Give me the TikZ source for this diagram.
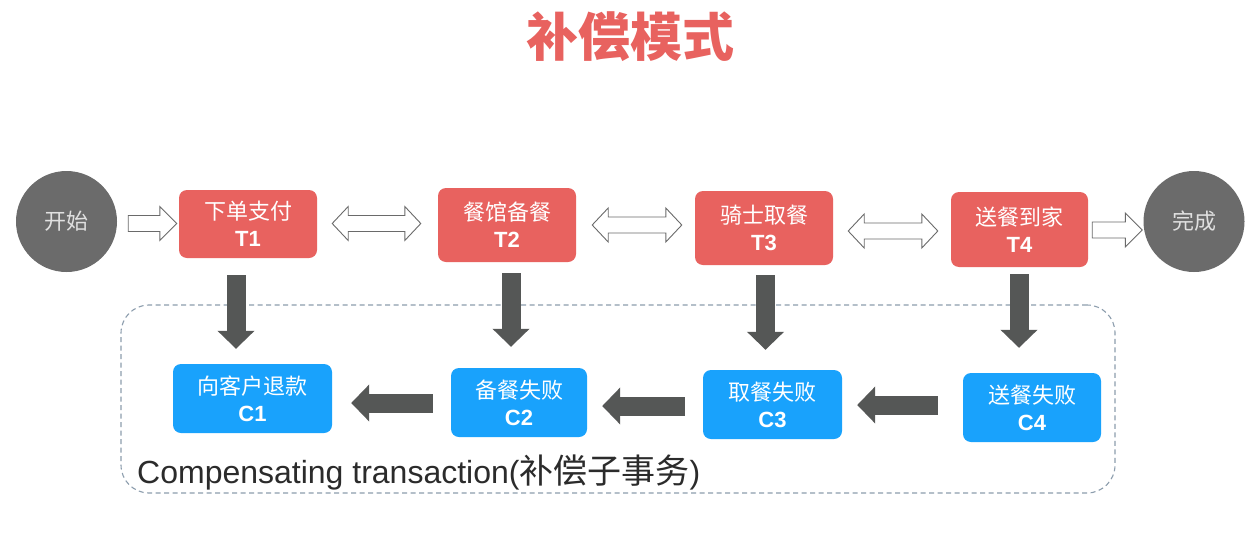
\documentclass[tikz,border=0pt]{standalone}
\usepackage{fontspec}
\setmainfont{Liberation Sans}
\newfontfamily\cjk{Noto Sans CJK SC}
\usetikzlibrary{arrows.meta,calc}
\definecolor{tred}{HTML}{E8625F}
\definecolor{cblue}{HTML}{19A2FC}
\definecolor{cgray}{HTML}{6B6B6B}
\definecolor{darr}{HTML}{555756}
\definecolor{dashc}{HTML}{8C9DAD}
\definecolor{txtc}{HTML}{2B2B2B}
\definecolor{hollowc}{HTML}{6A6A6A}
\newcommand{\onearrow}[2]{%
  \draw[hollow] let \p1=(#1), \p2=(#2) in
    (\x1,\y1+8pt) -- (\x2-17pt,\y1+8pt) -- (\x2-17pt,\y1+17pt) -- (\x2,\y1)
    -- (\x2-17pt,\y1-17pt) -- (\x2-17pt,\y1-8pt) -- (\x1,\y1-8pt) -- cycle;}
\newcommand{\twoarrow}[2]{%
  \draw[hollow] let \p1=(#1), \p2=(#2) in
    (\x1,\y1) -- (\x1+16pt,\y1+17pt) -- (\x1+16pt,\y1+8pt) -- (\x2-16pt,\y1+8pt)
    -- (\x2-16pt,\y1+17pt) -- (\x2,\y1) -- (\x2-16pt,\y1-17pt) -- (\x2-16pt,\y1-8pt)
    -- (\x1+16pt,\y1-8pt) -- (\x1+16pt,\y1-17pt) -- cycle;}
\begin{document}
\begin{tikzpicture}[x=1pt,y=-1pt,
  tbox/.style={fill=tred, rounded corners=8pt, text=white, align=center, inner sep=0pt,
    font=\fontsize{22}{27}\selectfont},
  cbox/.style={fill=cblue, rounded corners=8pt, text=white, align=center, inner sep=0pt,
    font=\fontsize{22}{27}\selectfont},
  endpt/.style={circle, fill=cgray, minimum size=101pt, inner sep=0pt, text=black!12,
    font=\cjk\fontsize{22}{26}\selectfont},
  blk/.style={draw=darr, line width=19pt, -{Triangle[length=18pt,width=36pt]}},
  hollow/.style={draw=hollowc, fill=white, line width=0.9pt, line join=miter},
  groupbox/.style={draw=dashc, line width=1.1pt, dash pattern=on 5pt off 3.5pt, rounded corners=28pt},
]
\useasboundingbox (0,0) rectangle (1260,557);
\fill[white] (0,0) rectangle (1260,557);

\node[text=tred, font=\cjk\bfseries\fontsize{52}{60}\selectfont] (title) at (630,37) {补偿模式};

\node[groupbox, minimum width=994pt, minimum height=188pt] (grp) at (618,399) {};

\node[endpt] (st) at (66.5,221.5) {开始};
\node[endpt] (en) at (1194,221.5) {完成};

\node[tbox, minimum width=138pt, minimum height=68pt] (t1) at (248,224) {{\cjk 下单支付}\\\bfseries T1};
\node[tbox, minimum width=138pt, minimum height=74pt] (t2) at (507,225) {{\cjk 餐馆备餐}\\\bfseries T2};
\node[tbox, minimum width=138pt, minimum height=74pt] (t3) at (764,228) {{\cjk 骑士取餐}\\\bfseries T3};
\node[tbox, minimum width=137pt, minimum height=75pt] (t4) at (1019.5,229.5) {{\cjk 送餐到家}\\\bfseries T4};

\node[cbox, minimum width=159pt, minimum height=69pt] (c1) at (252.5,398.5) {{\cjk 向客户退款}\\\bfseries C1};
\node[cbox, minimum width=136pt, minimum height=69pt] (c2) at (519,402.5) {{\cjk 备餐失败}\\\bfseries C2};
\node[cbox, minimum width=139pt, minimum height=69pt] (c3) at (772.5,404.5) {{\cjk 取餐失败}\\\bfseries C3};
\node[cbox, minimum width=138pt, minimum height=69pt] (c4) at (1032,407.5) {{\cjk 送餐失败}\\\bfseries C4};

\node[anchor=base west, text=txtc, inner sep=0pt, font=\fontsize{32}{36}\selectfont] (lbl) at (137,483)
  {Compensating transaction({\cjk\fontsize{34}{36}\selectfont 补偿子事务})};

% hollow arrows along the top row
\onearrow{$(st.east)+(11,2)$}{$(t1.west)+(-2,0)$}
\twoarrow{$(t1.east)+(15,-0.5)$}{$(t2.west)+(-17,0)$}
\twoarrow{$(t2.east)+(16,0)$}{$(t3.west)+(-13,0)$}
\twoarrow{$(t3.east)+(15,3)$}{$(t4.west)+(-13,0)$}
\onearrow{$(t4.east)+(4,0.5)$}{$(en.west)+(-1,0)$}

% dark block arrows
\draw[blk] ($(t1.south)+(-12,17)$) -- ($(c1.north)+(-16.5,-15)$);
\draw[blk] ($(t2.south)+(4,11)$) -- ($(c2.north)+(-8,-21)$);
\draw[blk] ($(t3.south)+(1.5,10)$) -- ($(c3.north)+(-7,-20)$);
\draw[blk] ($(t4.south)+(-0.5,7)$) -- ($(c4.north)+(-13,-25)$);
\draw[blk] ($(c2.west)+(-18,0.5)$) -- ($(c1.east)+(19,4.5)$);
\draw[blk] ($(c3.west)+(-18,1.5)$) -- ($(c2.east)+(15,3.5)$);
\draw[blk] ($(c4.west)+(-25,-2.5)$) -- ($(c3.east)+(15,0.5)$);
\end{tikzpicture}
\end{document}
